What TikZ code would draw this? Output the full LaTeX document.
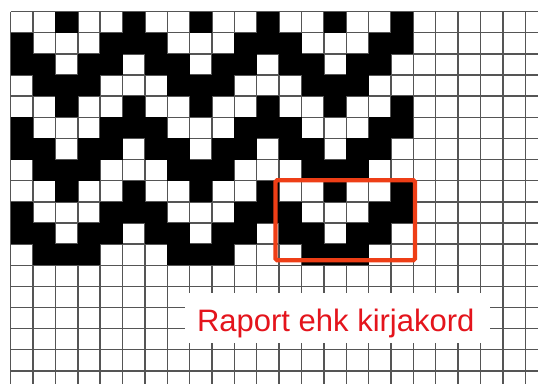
\documentclass[tikz,border=0pt]{standalone}
\usepackage{fontspec}
\newfontfamily\labelfont{Liberation Sans}
\definecolor{gridgray}{RGB}{85,85,85}
\definecolor{framered}{RGB}{238,62,22}
\definecolor{labelred}{RGB}{228,20,28}
\begin{document}
\begin{tikzpicture}[x=22.374pt,y=-21.135pt,
  gridline/.style={draw=gridgray,line width=1.4pt},
  cell/.style={fill=black},
  repeatframe/.style={draw=framered,line width=4.3pt,rounded corners=1.5pt}]
\fill[white] (-0.478,-0.552) rectangle (23.57,17.61);
\useasboundingbox (-0.478,-0.552) rectangle (23.57,17.61);

% squared paper
\foreach \i in {0,...,23} \draw[gridline] (\i,0) -- (\i,17.61);
\foreach \j in {0,...,17} \draw[gridline] (0,\j) -- (23.57,\j);

% the zigzag, four rows repeated three times
\foreach \r in {0,4,8}{
  \foreach \c in {2,5,8,11,14,17} \fill[cell] (\c,\r) rectangle ++(1,1);
  \foreach \c in {0,4,5,6,10,11,12,16,17} \fill[cell] (\c,\r+1) rectangle ++(1,1);
  \foreach \c in {0,1,3,4,6,7,9,10,12,13,15,16} \fill[cell] (\c,\r+2) rectangle ++(1,1);
  \foreach \c in {1,2,3,7,8,9,13,14,15} \fill[cell] (\c,\r+3) rectangle ++(1,1);
}

% one repeat
\draw[repeatframe] (11.84,7.98) rectangle (18.07,11.76);

\fill[white] (7.79,13.31) rectangle (21.42,15.68);
\node[anchor=base,text=labelred,font=\labelfont\fontsize{31}{31}\selectfont] (raport) at (14.53,15.14) {Raport ehk kirjakord};
\end{tikzpicture}
\end{document}
